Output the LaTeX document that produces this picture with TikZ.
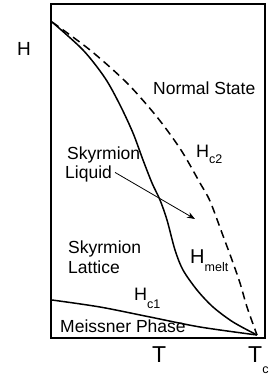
\documentclass[tikz,border=0pt]{standalone}
\usepackage{fontspec}
\setmainfont{Liberation Sans}
\usetikzlibrary{arrows.meta}

\newcommand{\lowidx}[2][8pt]{\raisebox{-#1}{\fontsize{12.5}{13}\selectfont #2}}

\begin{document}
\begin{tikzpicture}[
    x=1pt, y=-1pt,
    frame/.style={draw, line width=1.4pt},
    boundary/.style={line width=1.5pt},
    crossover/.style={line width=1.5pt, dash pattern=on 8pt off 5pt},
    region/.style={inner sep=0pt, anchor=base west, font=\fontsize{17.5}{21}\selectfont},
    fieldlbl/.style={inner sep=0pt, anchor=base west, font=\fontsize{18}{20}\selectfont},
    axislbl/.style={inner sep=0pt, anchor=base west, font=\fontsize{23}{24}\selectfont},
    pointer/.style={-{Stealth[length=8pt, width=6pt]}, line width=0.8pt}
]

\useasboundingbox (0,0) rectangle (273,377);
\draw[frame] (51,4) rectangle (265,338);

\coordinate (hmax) at (52,22);
\coordinate (tc) at (257,335);
\coordinate (hlow) at (52,300);

% phase boundaries
\draw[crossover] plot[smooth, tension=0.5] coordinates {(hmax) (90,50) (127,83) (157,117) (181,150) (200,183) (210,201) (222,233) (232,260) (240,283) (247,307) (tc)};
\draw[boundary] plot[smooth, tension=0.5] coordinates {(hmax) (83,50) (105,78) (120,105) (133,133) (143,160) (152,183) (160,200) (167,220) (175,250) (183,270) (197,290) (213,307) (233,322) (tc)};
\draw[boundary] plot[smooth, tension=0.5] coordinates {(hlow) (100,307) (150,317) (200,327) (tc)};

% labels
\node[region] (normal) at (153,95) {Normal State};
\node[region] (liquidtop) at (67,159) {Skyrmion};
\node[region] (liquid) at (65,178) {Liquid};
\node[region] (latticetop) at (68,253) {Skyrmion};
\node[region] (lattice) at (68,273) {Lattice};
\node[region] (meissner) at (60,332) {Meissner Phase};

\node[fieldlbl] (hc2) at (196,157) {H\lowidx[6pt]{c2}};
\node[fieldlbl, font=\fontsize{20}{22}\selectfont] (hmelt) at (190,263) {H\lowidx{melt}};
\node[fieldlbl] (hc1) at (134,300) {H\lowidx{c1}};

\node[fieldlbl, font=\fontsize{19}{20}\selectfont] (haxis) at (17,56) {H};
\node[axislbl] (taxis) at (152,362) {T};
\node[axislbl] (tcaxis) at (248,362) {T\lowidx[11pt]{c}};

\coordinate (tip) at (195,219);
\draw[pointer] ([xshift=3pt, yshift=1pt]liquid.east) -- (tip);

\end{tikzpicture}
\end{document}
